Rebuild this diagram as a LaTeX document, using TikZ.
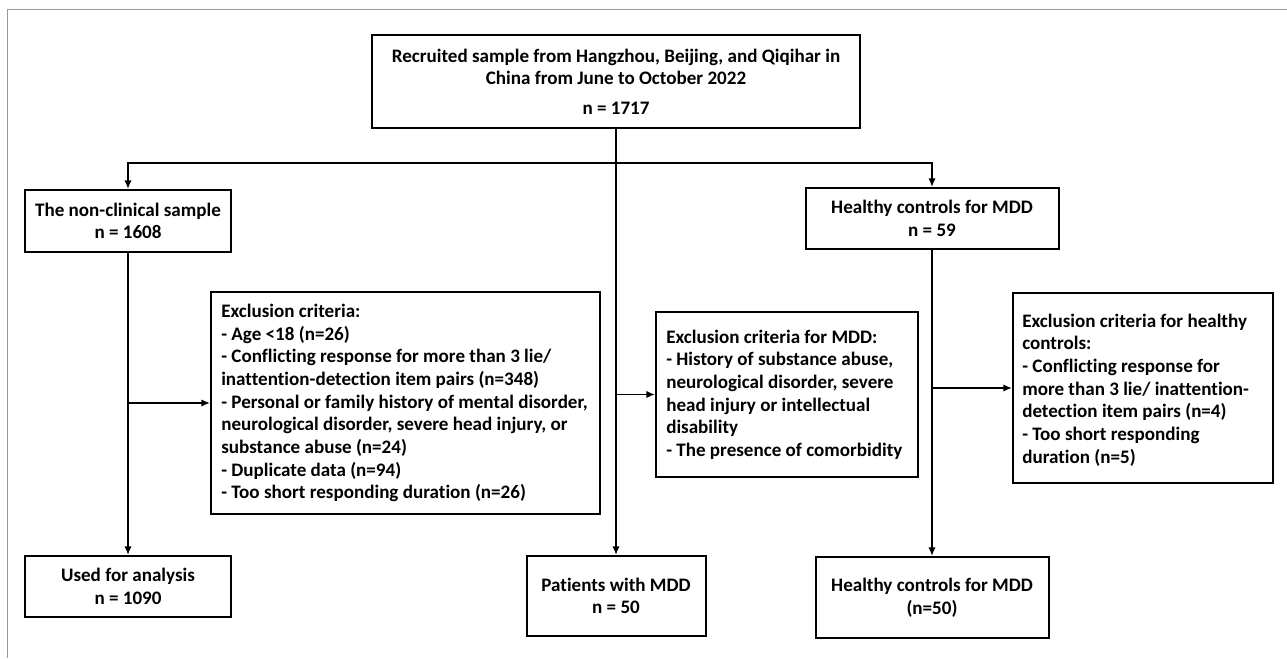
\documentclass[tikz,border=0pt]{standalone}
\usepackage{fontspec}
\setmainfont{Carlito}[RawFeature={-liga}]
\usetikzlibrary{arrows.meta,calc}
\tikzset{
  box/.style={draw=black, line width=1.5pt, rectangle, inner sep=0pt, align=center,
    font=\fontsize{14.3pt}{17pt}\selectfont\bfseries},
  txt/.style={inner sep=0pt, align=left, anchor=west,
    font=\fontsize{14.3pt}{17pt}\selectfont\bfseries},
  arr/.style={line width=1.25pt, -{Latex[length=6.5pt,width=5.5pt]}},
}
\begin{document}
\begin{tikzpicture}[x=0.75pt,y=-0.75pt]
\useasboundingbox (0,0) rectangle (1287,658);
% frame
\draw[gray!80, line width=0.75pt] (7,658) -- (7,9) -- (1287,9);
% boxes
\node[box, minimum width=366pt, minimum height=69.75pt] (top) at (616,81.5)
  {Recruited sample from Hangzhou, Beijing, and Qiqihar in\\ China from June to October 2022\\[5pt] n = 1717};
\node[box, minimum width=154.5pt, minimum height=46.5pt] (nc) at (128,221)
  {The non-clinical sample\\ n = 1608};
\node[box, minimum width=189.75pt, minimum height=45.75pt] (hc) at (932,218.5)
  {Healthy controls for MDD\\ n = 59};
\node[box, minimum width=291.75pt, minimum height=166.5pt] (excl) at (405.5,403) {};
\node[txt] (excltxt) at ([xshift=8.25pt]excl.west)
  {Exclusion criteria:\\
   - Age <18 (n=26)\\
   - Conflicting response for more than 3 lie/\\
   inattention-detection item pairs (n=348)\\
   - Personal or family history of mental disorder,\\
   neurological disorder, severe head injury, or\\
   substance abuse (n=24)\\
   - Duplicate data (n=94)\\
   - Too short responding duration (n=26)};
\node[box, minimum width=196.5pt, minimum height=123.75pt] (mddx) at (787,394.5) {};
\node[txt] (mddxtxt) at ([xshift=8.25pt]mddx.west)
  {Exclusion criteria for MDD:\\
   - History of substance abuse,\\
   neurological disorder, severe\\
   head injury or intellectual\\
   disability\\
   - The presence of comorbidity};
\node[box, minimum width=195pt, minimum height=142.5pt] (hcx) at (1143,388) {};
\node[txt] (hcxtxt) at ([xshift=7.5pt,yshift=-1.5pt]hcx.west)
  {Exclusion criteria for healthy\\
   controls:\\
   - Conflicting response for\\
   more than 3 lie/ inattention-\\
   detection item pairs (n=4)\\
   - Too short responding\\
   duration (n=5)};
\node[box, minimum width=154.5pt, minimum height=45.75pt] (used) at (128,586.5)
  {Used for analysis\\ n = 1090};
\node[box, minimum width=134.25pt, minimum height=60pt] (pat) at (616,596)
  {Patients with MDD\\ n = 50};
\node[box, minimum width=174.75pt, minimum height=60.75pt] (hcf) at (932,597.5)
  {Healthy controls for MDD\\ (n=50)};
% connectors
\coordinate (br) at (616,163);
\draw[arr] (top.south) -- (pat.north);
\draw[arr] (br) -| (nc.north);
\draw[arr] (br) -| (hc.north);
\draw[arr] (nc.south) -- (used.north);
\draw[arr] (used.north |- excl.west) -- (excl.west);
\draw[arr] (pat.north |- mddx.west) -- (mddx.west);
\draw[arr] (hc.south) -- (hcf.north);
\draw[arr] (hcf.north |- hcx.west) -- (hcx.west);
\end{tikzpicture}
\end{document}
